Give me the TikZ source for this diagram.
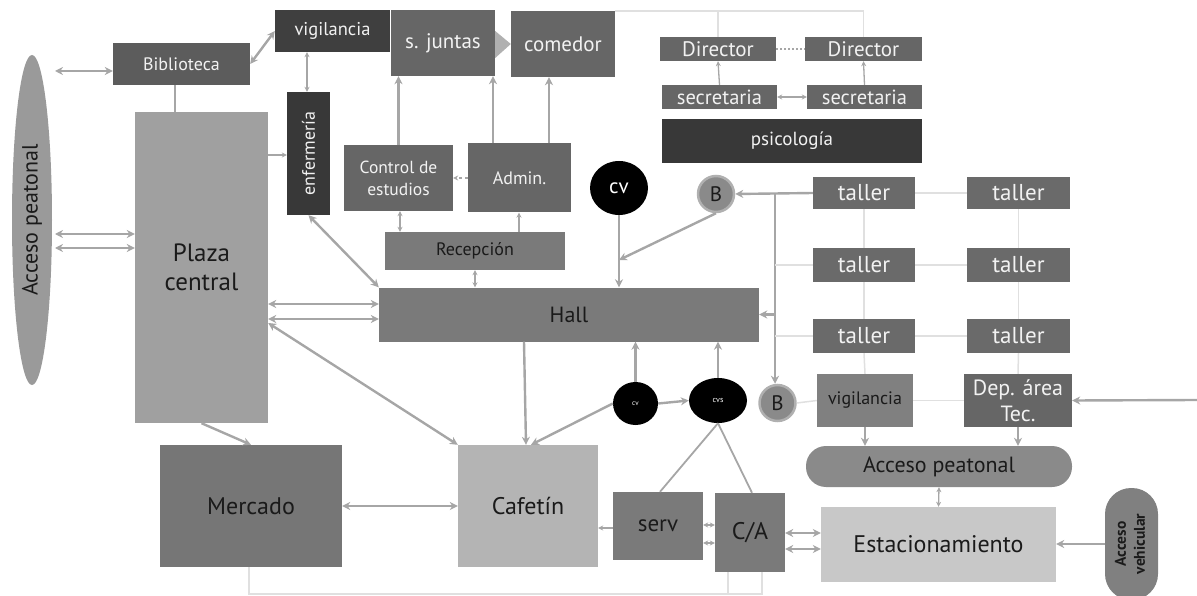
\documentclass[tikz,border=0pt]{standalone}
\usepackage{fontspec}
\setmainfont{PT Sans}
\usetikzlibrary{shapes.geometric,arrows.meta}

\definecolor{lnc}{HTML}{A6A6A6}
\definecolor{faintc}{HTML}{E0E0E0}
\definecolor{txtd}{HTML}{1A1A1A}
\definecolor{txtl}{HTML}{F2F2F2}
\definecolor{c38}{HTML}{383838}
\definecolor{c3f}{HTML}{3F3F3F}
\definecolor{c5c}{HTML}{5C5C5C}
\definecolor{c66}{HTML}{666666}
\definecolor{c6a}{HTML}{6A6A6A}
\definecolor{c76}{HTML}{767676}
\definecolor{c7a}{HTML}{7A7A7A}
\definecolor{c80}{HTML}{808080}
\definecolor{c8a}{HTML}{8A8A8A}
\definecolor{c9a}{HTML}{9A9A9A}
\definecolor{ca0}{HTML}{A0A0A0}
\definecolor{cb0}{HTML}{B0B0B0}
\definecolor{cb4}{HTML}{B4B4B4}
\definecolor{cc8}{HTML}{C8C8C8}

\newcommand{\fsz}[2]{\fontsize{#1}{#2}\selectfont}

\tikzset{
  blk/.style={rectangle, inner sep=0pt, align=center},
  dk/.style={blk, fill=#1, text=txtl},
  lt/.style={blk, fill=#1, text=txtd},
  blob/.style={ellipse, inner sep=0pt, fill=black, text=white},
  bcirc/.style={circle, inner sep=0pt, fill=c8a, draw=cb0, line width=2.5pt,
    text=txtd, minimum size=36, font=\fsz{21}{23}},
  arr/.style={draw=lnc, line width=2.4pt, -{Stealth[length=8pt,width=8pt]}},
  darr/.style={draw=lnc, line width=2.4pt,
    {Stealth[length=8pt,width=8pt]}-{Stealth[length=8pt,width=8pt]}},
  tarr/.style={draw=lnc, line width=1.3pt, -{Stealth[length=5pt,width=5pt]}},
  tdarr/.style={draw=lnc, line width=1.3pt,
    {Stealth[length=5pt,width=5pt]}-{Stealth[length=5pt,width=5pt]}},
  plain/.style={draw=lnc, line width=1.8pt},
  faint/.style={draw=faintc, line width=1.5pt},
}

\begin{document}
\begin{tikzpicture}[x=1pt, y=-1pt]
    \useasboundingbox (0,0) rectangle (1197,596);
    % lado izquierdo
    \node[ellipse, inner sep=0pt, fill=c9a, text=txtd, minimum width=40, minimum height=330] (accL) at (32,220) {\rotatebox{90}{\fsz{22}{24}Acceso peatonal}};
    \coordinate (accE) at (55,220);
    \node[dk=c5c, minimum width=137, minimum height=42, font=\fsz{18}{20}] (bib) at (181.5,64) {Biblioteca};
    \node[dk=c3f, minimum width=115, minimum height=42, font=\fsz{18.5}{20}] (vigT) at (332.5,31) {vigilancia};
    \node[dk=c66, minimum width=104, minimum height=66, font=\fsz{21}{23}] (sj) at (443,43) {s. juntas};
    \node[dk=c66, minimum width=104, minimum height=66, font=\fsz{21}{23}] (com) at (563,44) {comedor};
    \node[dk=c38, minimum width=43, minimum height=123, font=\fsz{18}{20}] (enf) at (308.5,153.5) {\rotatebox{90}{enfermería}};
    \node[lt=ca0, minimum width=133, minimum height=311, font=\fsz{25}{29}] (plaza) at (201.5,267.5) {Plaza\\central};
    \node[dk=c66, minimum width=109, minimum height=66, font=\fsz{17.5}{22}] (ctrl) at (398.5,178) {Control de\\estudios};
    \node[dk=c66, minimum width=103, minimum height=69, font=\fsz{18}{20}] (adm) at (519.5,178) {Admin.};
    \node[blob, minimum width=58, minimum height=54, font=\fsz{21}{23}] (cvT) at (619,188) {cv};
    \node[lt=c7a, minimum width=180, minimum height=38, font=\fsz{18}{20}] (rec) at (475,251) {Recepción};
    \node[lt=c7a, minimum width=380, minimum height=54, font=\fsz{22}{24}] (hall) at (569,314.5) {Hall};
    \node[bcirc] (bT) at (716,194) {B};
    \node[blob, minimum width=45, minimum height=43, font=\fsz{7}{8}] (cvS) at (635.5,403.5) {cv};
    \node[blob, minimum width=58, minimum height=45, font=\fsz{8}{9}] (cvs) at (718,400.5) {cvs};
    \node[bcirc] (bB) at (777.5,403) {B};
    % abajo
    \node[lt=c76, minimum width=182, minimum height=122, font=\fsz{24}{26}] (merc) at (251,506) {Mercado};
    \node[lt=cb4, minimum width=140, minimum height=122, font=\fsz{24}{26}] (caf) at (528,506) {Cafetín};
    \node[lt=c7a, minimum width=90, minimum height=68, font=\fsz{23}{25}] (serv) at (658,526) {serv};
    \node[lt=c7a, minimum width=70, minimum height=79, font=\fsz{24}{26}] (CA) at (750,532.5) {C/A};
    \node[lt=cc8, minimum width=235, minimum height=75, font=\fsz{24}{26}] (est) at (938.5,544.5) {Estacionamiento};
    \node[lt=c8a, rounded corners=20pt, minimum width=266, minimum height=41, font=\fsz{22}{24}] (accR) at (939,466.5) {Acceso peatonal};
    \node[lt=c80, rounded corners=26pt, minimum width=53, minimum height=112] (accV) at (1131.5,544) {\rotatebox{90}{\fsz{15.5}{19}\bfseries\begin{tabular}{@{}c@{}}Acceso\\vehicular\end{tabular}}};
    \coordinate (edgeR) at (1197,400);
    % direccion
    \node[dk=c66, minimum width=116, minimum height=24, font=\fsz{21}{23}] (dirA) at (718,49) {Director};
    \node[dk=c66, minimum width=117, minimum height=24, font=\fsz{21}{23}] (dirB) at (863.5,49) {Director};
    \node[dk=c66, minimum width=115, minimum height=24, font=\fsz{20.5}{22}] (secA) at (719.5,97) {secretaria};
    \node[dk=c66, minimum width=115, minimum height=24, font=\fsz{20.5}{22}] (secB) at (864.5,97) {secretaria};
    \node[dk=c38, minimum width=260, minimum height=44, font=\fsz{19}{21}] (psi) at (792,141) {psicología};
    % talleres
    \node[dk=c6a, minimum width=102, minimum height=32, font=\fsz{23}{25}] (tA1) at (864,193) {taller};
    \node[dk=c6a, minimum width=103, minimum height=32, font=\fsz{23}{25}] (tB1) at (1018.5,193) {taller};
    \node[dk=c6a, minimum width=102, minimum height=34, font=\fsz{23}{25}] (tA2) at (864,265) {taller};
    \node[dk=c6a, minimum width=103, minimum height=34, font=\fsz{23}{25}] (tB2) at (1018.5,265) {taller};
    \node[dk=c6a, minimum width=102, minimum height=34, font=\fsz{23}{25}] (tA3) at (864,336) {taller};
    \node[dk=c6a, minimum width=103, minimum height=34, font=\fsz{23}{25}] (tB3) at (1018.5,336) {taller};
    \node[lt=c80, minimum width=96, minimum height=53, font=\fsz{18}{20}] (vigR) at (865,400.5) {vigilancia};
    \node[dk=c66, minimum width=108, minimum height=53, font=\fsz{22}{26}] (dep) at (1018,400.5) {Dep. área\\Tec.};

    % flecha s. juntas - comedor
    \fill[cb0] (sj.east |- 0,31) -- (com.west) -- (sj.east |- 0,58) -- cycle;

    % conexiones
    \draw[darr] (accE |- 0,71) -- (bib.west |- 0,71);
    \draw[darr] (accE |- 0,234) -- (plaza.west |- 0,234);
    \draw[darr] (accE |- 0,248) -- (plaza.west |- 0,248);
    \draw[plain] (bib.south -| 175,0) -- (plaza.north -| 175,0);
    \draw[darr] (bib.east) -- (vigT.west);
    \draw[tdarr] (vigT.south -| 307,0) -- (enf.north -| 307,0);
    \draw[tarr] (plaza.east |- 0,155) -- (enf.west |- 0,155);
    \draw[darr] (enf.south) -- (hall.north west);
    \draw[arr] (ctrl.north) -- (ctrl.north |- sj.south);
    \draw[arr] (adm.north -| 493,0) -- (sj.south -| 493,0);
    \draw[arr] (adm.north -| 549,0) -- (com.south -| 549,0);
    \draw[tarr, dashed] (adm.west) -- (ctrl.east);
    \draw[tdarr] (rec.north -| 400,0) -- (ctrl.south -| 400,0);
    \draw[tarr] (rec.north -| 519,0) -- (adm.south -| 519,0);
    \draw[tdarr] (rec.south) -- (rec.south |- hall.north);
    \draw[arr] (cvT.south) -- (cvT.south |- hall.north);
    \draw[arr] (bT.south) -- (cvT.south |- 0,260);
    \draw[darr] (plaza.east |- 0,304) -- (hall.west |- 0,304);
    \draw[darr] (plaza.east |- 0,319) -- (hall.west |- 0,319);
    \draw[darr] (plaza.east |- 0,323) -- (caf.north west);
    \draw[arr] (plaza.south) -- (merc.north);
    \draw[darr] (merc.east) -- (caf.west);
    \draw[arr] (hall.south -| 524,0) -- (caf.north -| 526,0);
    \draw[arr] (cvS.west) -- (caf.north -| 531,0);
    \draw[arr] (cvS.north) -- (cvS.north |- hall.south);
    \draw[arr] (cvs.north) -- (cvs.north |- hall.south);
    \draw[arr] (cvS.east) -- (cvs.west);
    \draw[plain] (cvs.south) -- (serv.north -| 660,0);
    \draw[plain] (cvs.south) -- (CA.north -| 752,0);
    \draw[tarr] (serv.west |- 0,528) -- (caf.east |- 0,528);
    \draw[tdarr] (serv.east |- 0,525) -- (CA.west |- 0,525);
    \draw[tdarr] (serv.east |- 0,543) -- (CA.west |- 0,543);
    \draw[darr] (CA.east |- 0,533) -- (est.west |- 0,533);
    \draw[darr] (CA.east |- 0,549) -- (est.west |- 0,549);
    \draw[arr] (accV.west) -- (est.east |- accV.west);
    \draw[tdarr] (est.north) -- (accR.south);
    \draw[arr] (vigR.south) -- (vigR.south |- accR.north);
    \draw[arr] (dep.south) -- (dep.south |- accR.north);
    \draw[arr] (edgeR) -- (dep.east);
    \draw[arr] (tA1.west) -- (bT.east);
    \draw[arr] (tA1.west -| 775,0) -- (bB.north -| 775,0);
    \draw[arr] (hall.east -| 775,0) -- (hall.east);
    % direccion
    \draw[faint] (com.north east) -- (com.north east -| dirB.north) -- (dirB.north);
    \draw[faint] (dirA.north |- com.north east) -- (dirA.north);
    \draw[draw=lnc, line width=2pt, dotted] (dirA.east) -- (dirB.west);
    \draw[tdarr] (secA.east) -- (secB.west);
    \draw[tarr] (secA.north) -- (dirA.south);
    \draw[tarr] (secB.north) -- (dirB.south);
    % lineas claras
    \draw[faint] (tA2.west -| 775,0) -- (tA2.west);
    \draw[faint] (tA3.west -| 775,0) -- (tA3.west);
    \draw[faint] (tA1.east) -- (tB1.west);
    \draw[faint] (tA2.east) -- (tB2.west);
    \draw[faint] (tA3.east) -- (tB3.west);
    \draw[faint] (tA1.south) -- (tA2.north);
    \draw[faint] (tA2.south) -- (tA3.north);
    \draw[faint] (tA3.south) -- (vigR.north);
    \draw[faint] (tB1.south) -- (tB2.north);
    \draw[faint] (tB2.south) -- (tB3.north);
    \draw[faint] (tB3.south) -- (dep.north);
    \draw[faint] (bB.east) -- (vigR.west);
    \draw[faint] (vigR.east) -- (dep.west);
    \coordinate (botL) at (249,594);
    \coordinate (botR) at (762,594);
    \draw[faint] (merc.south -| botL) -- (botL) -- (botR) -- (CA.south -| botR);
    \draw[faint] (CA.south -| 728,0) -- (728,594);
\end{tikzpicture}
\end{document}
